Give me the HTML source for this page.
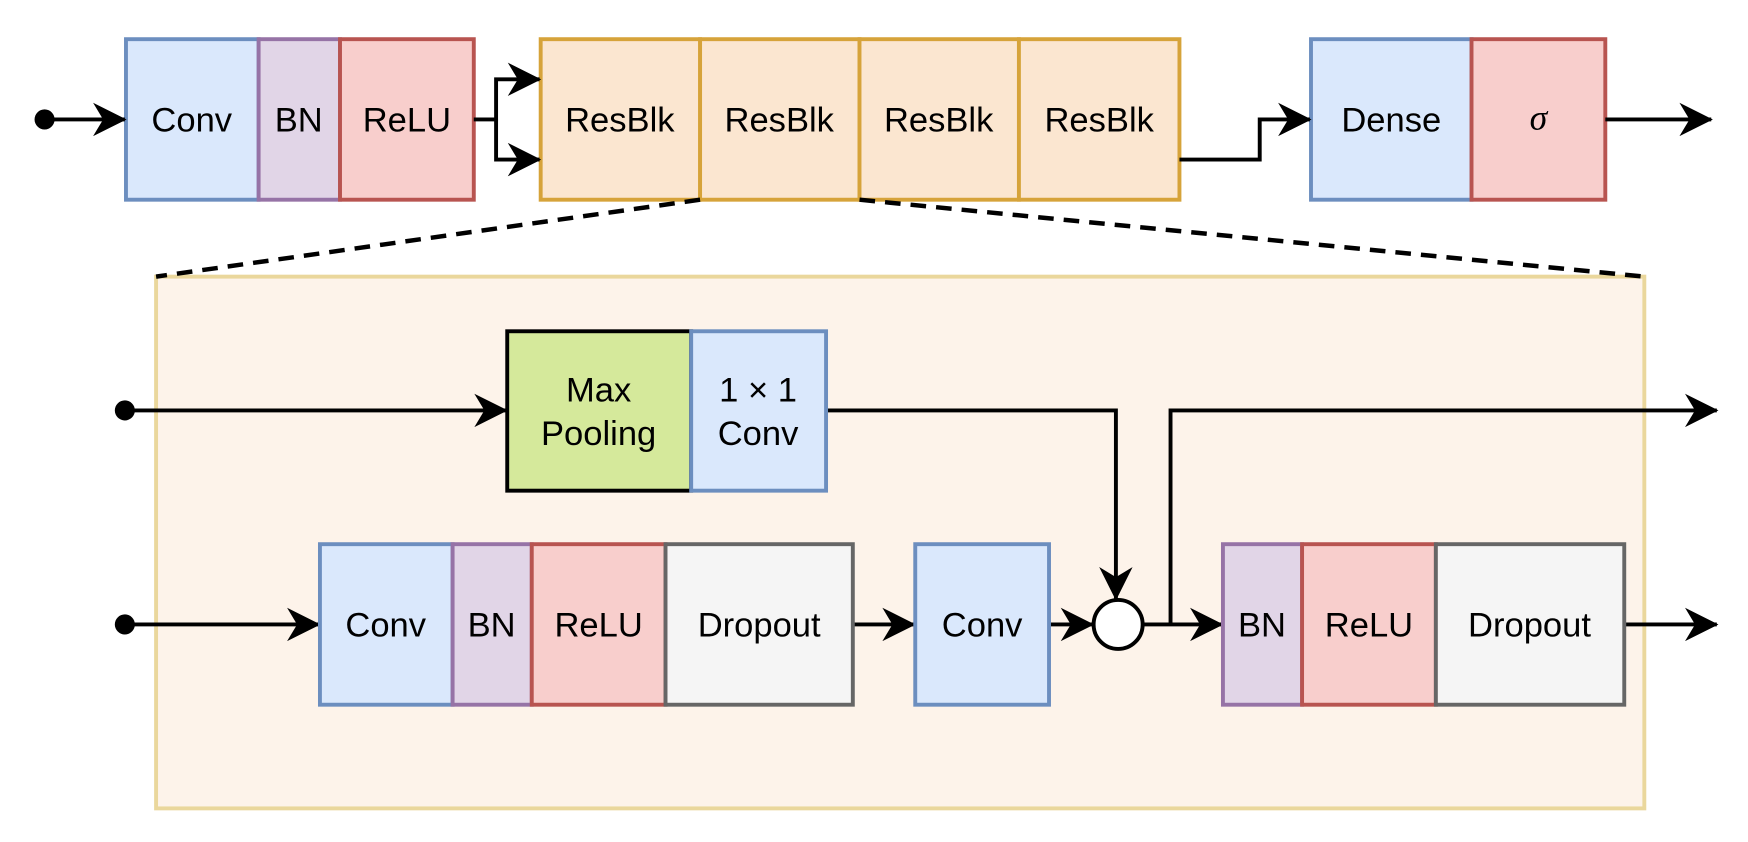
<!DOCTYPE html>
<html><head><meta charset="utf-8"><style>html,body{margin:0;padding:0;background:#fff}svg{display:block}</style></head>
<body>
<svg width="1748" height="842" viewBox="0 0 1568 755" xmlns="http://www.w3.org/2000/svg" font-family="Liberation Sans, Arial, sans-serif" font-size="31">
<defs>
<marker id="a" viewBox="0 0 10 10" refX="9.5" refY="5" markerWidth="32" markerHeight="30" markerUnits="userSpaceOnUse" orient="auto"><path d="M0,0 L10,5 L0,10 L3,5 Z" fill="#000"/></marker>
</defs>
<g stroke-width="3.5">
<rect x="113" y="35" width="119" height="144" fill="#dae8fc" stroke="#6c8ebf"/>
<rect x="232" y="35" width="73" height="144" fill="#e1d5e7" stroke="#9673a6"/>
<rect x="305" y="35" width="120" height="144" fill="#f8cecc" stroke="#b85450"/>
<rect x="485" y="35" width="143" height="144" fill="#fbe6d0" stroke="#d6a33a"/>
<rect x="628" y="35" width="143" height="144" fill="#fbe6d0" stroke="#d6a33a"/>
<rect x="771" y="35" width="143" height="144" fill="#fbe6d0" stroke="#d6a33a"/>
<rect x="914" y="35" width="144" height="144" fill="#fbe6d0" stroke="#d6a33a"/>
<rect x="1176" y="35" width="144" height="144" fill="#dae8fc" stroke="#6c8ebf"/>
<rect x="1320" y="35" width="120" height="144" fill="#f8cecc" stroke="#b85450"/>
<rect x="140" y="248" width="1335" height="477" fill="#fdf3ea" stroke="#ead79c"/>
<g stroke="#000" fill="none">
<line x1="628" y1="179" x2="140" y2="248" stroke-dasharray="14,9" stroke-width="4"/>
<line x1="771" y1="179" x2="1475" y2="248" stroke-dasharray="14,9" stroke-width="4"/>
<line x1="40" y1="107" x2="112" y2="107" marker-end="url(#a)"/>
<polyline points="425,107 445,107 445,71 484,71" marker-end="url(#a)"/>
<polyline points="445,107 445,143 484,143" marker-end="url(#a)"/>
<polyline points="1058,143 1130,143 1130,107 1175,107" marker-end="url(#a)"/>
<line x1="1440" y1="107" x2="1535" y2="107" marker-end="url(#a)"/>
<line x1="112" y1="368" x2="454" y2="368" marker-end="url(#a)"/>
<polyline points="741,368 1001,368 1001,537" marker-end="url(#a)"/>
<line x1="112" y1="560" x2="286" y2="560" marker-end="url(#a)"/>
<line x1="765" y1="560" x2="820" y2="560" marker-end="url(#a)"/>
<line x1="941" y1="560" x2="980" y2="560" marker-end="url(#a)"/>
<line x1="1025" y1="560" x2="1096" y2="560" marker-end="url(#a)"/>
<polyline points="1050,560 1050,368 1540,368" marker-end="url(#a)"/>
<line x1="1457" y1="560" x2="1540" y2="560" marker-end="url(#a)"/>
</g>
<circle cx="40" cy="107" r="9" fill="#000" stroke="none"/>
<circle cx="112" cy="368" r="9" fill="#000" stroke="none"/>
<circle cx="112" cy="560" r="9" fill="#000" stroke="none"/>
<circle cx="1003" cy="560" r="22" fill="#fff" stroke="#000"/>
<rect x="455" y="297" width="165" height="143" fill="#d5e99b" stroke="#000"/>
<rect x="620" y="297" width="121" height="143" fill="#dae8fc" stroke="#6c8ebf"/>
<rect x="287" y="488" width="119" height="144" fill="#dae8fc" stroke="#6c8ebf"/>
<rect x="406" y="488" width="71" height="144" fill="#e1d5e7" stroke="#9673a6"/>
<rect x="477" y="488" width="120" height="144" fill="#f8cecc" stroke="#b85450"/>
<rect x="597" y="488" width="168" height="144" fill="#f5f5f5" stroke="#666"/>
<rect x="821" y="488" width="120" height="144" fill="#dae8fc" stroke="#6c8ebf"/>
<rect x="1097" y="488" width="71" height="144" fill="#e1d5e7" stroke="#9673a6"/>
<rect x="1168" y="488" width="120" height="144" fill="#f8cecc" stroke="#b85450"/>
<rect x="1288" y="488" width="169" height="144" fill="#f5f5f5" stroke="#666"/>
</g>
<g text-anchor="middle" fill="#000">
<text x="172" y="118">Conv</text>
<text x="268" y="118">BN</text>
<text x="365" y="118">ReLU</text>
<text x="556" y="118">ResBlk</text>
<text x="699" y="118">ResBlk</text>
<text x="842" y="118">ResBlk</text>
<text x="986" y="118">ResBlk</text>
<text x="1248" y="118">Dense</text>
<text x="1380" y="116" font-family="Liberation Serif, serif" font-style="italic" font-size="32">σ</text>
<text x="537" y="360">Max</text>
<text x="537" y="399">Pooling</text>
<text x="680" y="360">1 × 1</text>
<text x="680" y="399">Conv</text>
<text x="346" y="571">Conv</text>
<text x="441" y="571">BN</text>
<text x="537" y="571">ReLU</text>
<text x="681" y="571">Dropout</text>
<text x="881" y="571">Conv</text>
<text x="1132" y="571">BN</text>
<text x="1228" y="571">ReLU</text>
<text x="1372" y="571">Dropout</text>
</g>
</svg>
</body></html>
